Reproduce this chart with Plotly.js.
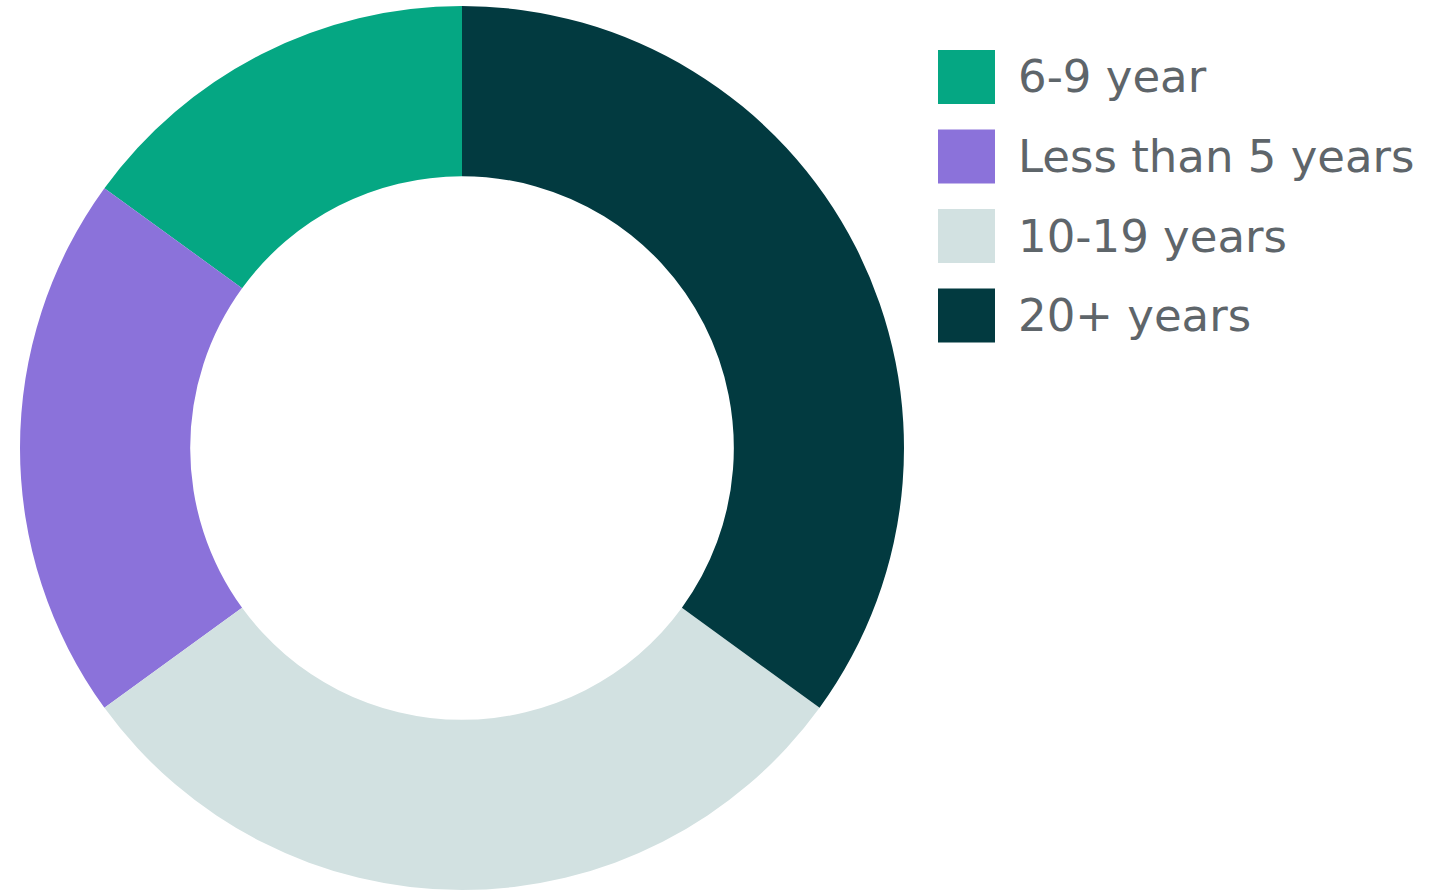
<!DOCTYPE html>
<html>
<head>
<meta charset="utf-8">
<script src="https://cdn.plot.ly/plotly-3.0.1.min.js"></script>
<style>html,body{margin:0;padding:0;background:#fff;}#chart{width:1429px;height:892px;}</style>
</head>
<body>
<div id="chart"></div>
<script>
const labels = ["6-9 year", "Less than 5 years", "10-19 years", "20+ years"];
const values = [15, 20, 30, 35];
const colors = ["#05a783", "#8b72da", "#d2e1e1", "#023a40"];

const W = 1429, H = 892;
const shapes = [];
const annotations = [];
const legendX0 = 938, boxW = 57, boxH = 54, rowStart = 77, rowGap = 79.5, textX = 1016;
labels.forEach((lab, i) => {
  const cy = rowStart + i * rowGap;
  shapes.push({
    type: "rect", xref: "paper", yref: "paper",
    x0: legendX0 / W, x1: (legendX0 + boxW) / W,
    y0: 1 - (cy + boxH / 2) / H, y1: 1 - (cy - boxH / 2) / H,
    fillcolor: colors[i], line: {width: 0}
  });
  annotations.push({
    text: lab, xref: "paper", yref: "paper",
    x: textX / W, y: 1 - cy / H, xanchor: "left", yanchor: "middle",
    showarrow: false, font: {family: "DejaVu Sans", size: 45, color: "#5e656a"}
  });
});

const data = [{
  type: "pie",
  labels: labels,
  values: values,
  hole: 0.615,
  sort: false,
  direction: "counterclockwise",
  rotation: -54,
  marker: {colors: colors, line: {width: 0}},
  textinfo: "none",
  hoverinfo: "label+percent",
  domain: {x: [20 / W, 904 / W], y: [1 - 890 / H, 1 - 6 / H]}
}];

const layout = {
  width: W, height: H,
  margin: {l: 0, r: 0, t: 0, b: 0},
  showlegend: false,
  paper_bgcolor: "#ffffff",
  shapes: shapes,
  annotations: annotations
};
Plotly.newPlot("chart", data, layout, {displayModeBar: false, staticPlot: true});
</script>
</body>
</html>
